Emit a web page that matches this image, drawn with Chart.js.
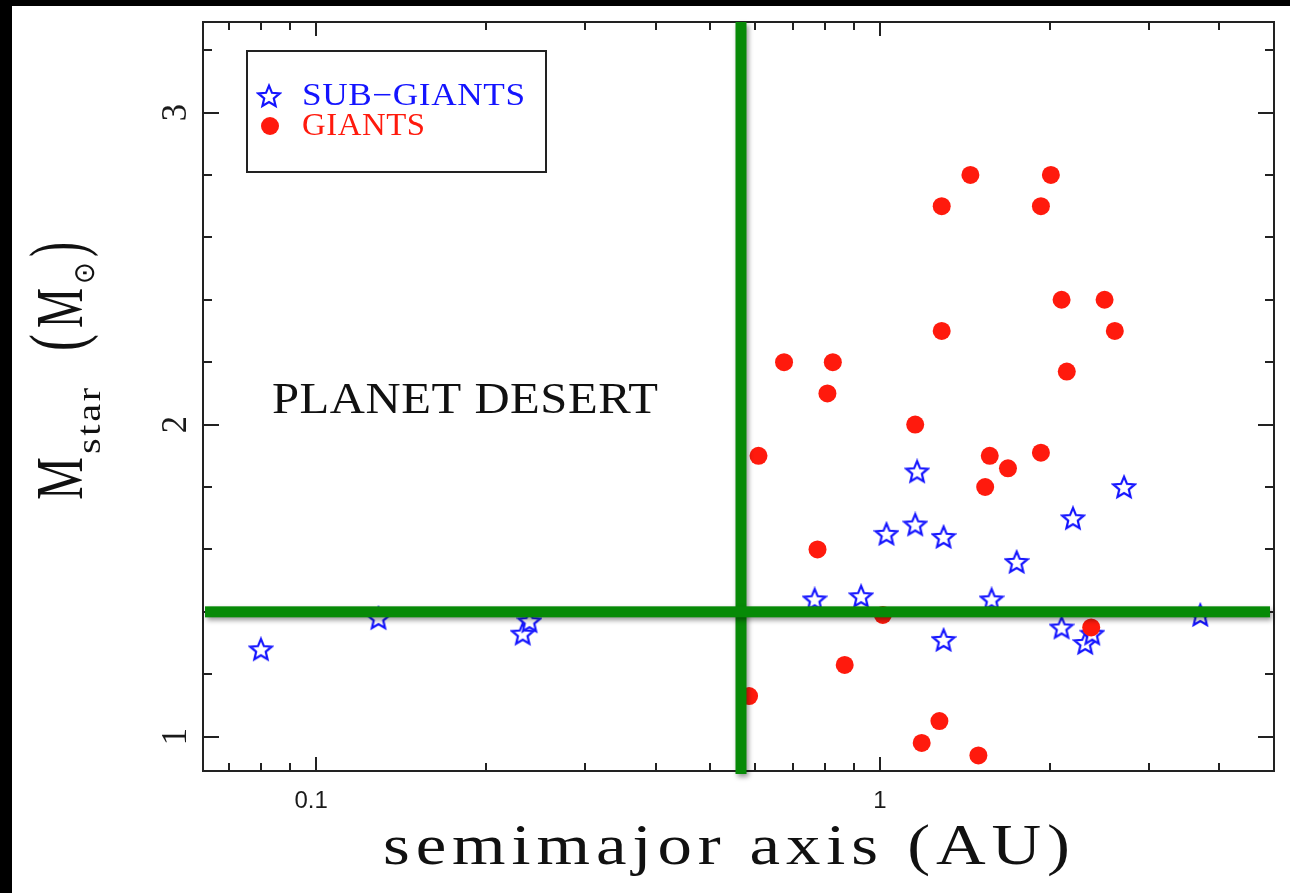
<!DOCTYPE html>
<html>
<head>
<meta charset="utf-8">
<script src="https://cdn.jsdelivr.net/npm/chart.js@4.4.1/dist/chart.umd.min.js"></script>
<style>
  html, body { margin: 0; padding: 0; background: #fff; }
  canvas { display: block; }
</style>
</head>
<body>
<canvas id="desertChart" width="1290" height="893"></canvas>
<script>
// host stars: semimajor axis (AU) and stellar mass (solar masses)
const subGiantAU   = [0.0798, 0.129, 0.2325, 0.239, 0.766, 0.926, 1.027, 1.155, 1.164, 1.297,
                      1.297, 1.578, 1.748, 2.10, 2.20, 2.313, 2.38, 2.71, 3.70];
const subGiantMass = [1.28, 1.38, 1.33, 1.37, 1.44, 1.45, 1.65, 1.68, 1.85, 1.64,
                      1.31, 1.44, 1.56, 1.35, 1.70, 1.30, 1.33, 1.80, 1.39];

const giantAU   = [1.447, 2.01, 1.287, 1.93, 2.10, 2.503, 1.287, 2.61, 0.676, 0.825,
                   2.145, 0.807, 1.155, 0.609, 1.566, 1.93, 1.687, 1.537, 0.775, 1.012,
                   2.37, 0.866, 0.586, 1.275, 1.186, 1.495];
const giantMass = [2.80, 2.80, 2.70, 2.70, 2.40, 2.40, 2.30, 2.30, 2.20, 2.20,
                   2.17, 2.10, 2.00, 1.90, 1.90, 1.91, 1.86, 1.80, 1.60, 1.39,
                   1.35, 1.23, 1.13, 1.05, 0.98, 0.94];

// tick marks and labelled ticks
const auTicks    = [0.07, 0.08, 0.09, 0.1, 0.2, 0.3, 0.4, 0.5, 0.6, 0.7, 0.8, 0.9, 1, 2, 3, 4];
const auLabels   = [0.1, 1];
const massTicks  = [1.0, 1.2, 1.4, 1.6, 1.8, 2.0, 2.2, 2.4, 2.6, 2.8, 3.0, 3.2];
const massLabels = [1, 2, 3];

// edges of the empty region
const desertEdgeAU = 0.567;
const desertEdgeMass = 1.4;

const SERIF = '"Liberation Serif", "Times New Roman", serif';
const SANS = '"Liberation Sans", Arial, sans-serif';
const starBlue = '#1414ff';
const giantRed = '#ff1a0d';
const desertGreen = '#078a07';

function makeStar(size, color) {
  const c = document.createElement('canvas');
  c.width = c.height = size;
  const g = c.getContext('2d');
  const r = size / 2 - 1.8, ri = r * 0.45;
  const cx = size / 2, cy = size / 2 + 0.9;
  g.beginPath();
  for (let i = 0; i < 10; i++) {
    const rad = i % 2 ? ri : r;
    const a = -Math.PI / 2 + i * Math.PI / 5;
    g.lineTo(cx + rad * Math.cos(a), cy + rad * Math.sin(a));
  }
  g.closePath();
  g.fillStyle = '#fff';
  g.fill();
  g.lineWidth = 2.2;
  g.strokeStyle = color;
  g.stroke();
  return c;
}
const starImg = makeStar(26, starBlue);

// draw text from x so that it spans `width`: fixed letter gap, glyphs stretched to fit
function fitText(ctx, text, x, y, width, font, gap) {
  gap = gap || 0;
  ctx.save();
  ctx.font = font;
  ctx.letterSpacing = gap + 'px';
  const w = ctx.measureText(text).width - (text.length > 1 ? gap : 0);
  const sx = width / w;
  ctx.translate(x, y);
  ctx.scale(sx, 1);
  ctx.textAlign = 'left';
  ctx.textBaseline = 'alphabetic';
  ctx.fillText(text, 0, 0);
  ctx.restore();
}

const decor = {
  id: 'decor',
  beforeDraw(chart) {
    const ctx = chart.ctx;
    ctx.save();
    ctx.fillStyle = '#fff';
    ctx.fillRect(0, 0, chart.width, chart.height);
    ctx.fillStyle = '#000';
    ctx.fillRect(0, 0, chart.width, 6);
    ctx.fillRect(0, 0, 12, chart.height);
    ctx.restore();
  },
  afterDatasetsDraw(chart) {
    const ctx = chart.ctx;
    const { left, right, top, bottom } = chart.chartArea;
    const xs = chart.scales.x, ys = chart.scales.y;

    ctx.save();
    // frame
    ctx.strokeStyle = '#222';
    ctx.lineWidth = 2;
    ctx.strokeRect(left, top, right - left, bottom - top);

    // inward ticks on all four sides
    ctx.beginPath();
    auTicks.forEach(v => {
      const px = Math.round(xs.getPixelForValue(v));
      const len = auLabels.includes(v) ? 14 : 8;
      ctx.moveTo(px, bottom); ctx.lineTo(px, bottom - len);
      ctx.moveTo(px, top); ctx.lineTo(px, top + len);
    });
    massTicks.forEach(v => {
      const py = Math.round(ys.getPixelForValue(v));
      const len = massLabels.includes(Math.round(v * 10) / 10) ? 16 : 9;
      ctx.moveTo(left, py); ctx.lineTo(left + len, py);
      ctx.moveTo(right, py); ctx.lineTo(right - len, py);
    });
    ctx.stroke();

    // tick labels
    ctx.fillStyle = '#1a1a1a';
    ctx.font = '24px ' + SANS;
    ctx.textAlign = 'center';
    ctx.textBaseline = 'alphabetic';
    auLabels.forEach(v => {
      ctx.fillText(String(v), xs.getPixelForValue(v) - (v < 1 ? 5 : 0), 808);
    });
    ctx.font = '32px ' + SERIF;
    massLabels.forEach(v => {
      ctx.save();
      ctx.translate(186, ys.getPixelForValue(v));
      ctx.rotate(-Math.PI / 2);
      ctx.scale(1.08, 1.12);
      ctx.fillText(String(v), 0, 0);
      ctx.restore();
    });

    // boundaries of the desert, over the points
    ctx.save();
    ctx.shadowColor = 'rgba(0,0,0,0.4)';
    ctx.shadowBlur = 5;
    ctx.shadowOffsetX = 2;
    ctx.shadowOffsetY = 3;
    ctx.fillStyle = desertGreen;
    const vx = xs.getPixelForValue(desertEdgeAU);
    ctx.fillRect(vx - 5.5, top, 11, bottom - top + 3);
    const hy = ys.getPixelForValue(desertEdgeMass);
    ctx.fillRect(left + 2, hy - 5.5, right - left - 6, 11);
    ctx.restore();

    // legend box
    ctx.strokeStyle = '#222';
    ctx.lineWidth = 2;
    ctx.strokeRect(247, 51, 299, 121);
    const dsStar = chart.data.datasets[1], dsDot = chart.data.datasets[0];
    Chart.helpers.drawPoint(ctx, { pointStyle: dsStar.pointStyle, radius: 11, borderWidth: 0 }, 269, 96);
    ctx.fillStyle = giantRed;
    Chart.helpers.drawPoint(ctx, { pointStyle: 'circle', radius: 9, borderWidth: 0 }, 270, 126);
    ctx.fillStyle = starBlue;
    fitText(ctx, dsStar.label, 302, 105, 223, '31px ' + SERIF, 0.5);
    ctx.fillStyle = giantRed;
    fitText(ctx, dsDot.label, 302, 135, 123, '31px ' + SERIF, 0.5);

    // region label
    ctx.fillStyle = '#111';
    fitText(ctx, 'PLANET DESERT', 272, 413, 386, '45px ' + SERIF, 0.5);

    // x-axis title
    fitText(ctx, 'semimajor axis (AU)', 383, 864, 687, '58px ' + SERIF, 5);

    // y-axis title: M_star (M_sun), reading upward
    ctx.save();
    ctx.translate(82, 500);
    ctx.rotate(-Math.PI / 2);
    ctx.scale(1, 1.12);
    fitText(ctx, 'M', 0, 0, 43, '60px ' + SERIF);
    fitText(ctx, 'star', 46, 16, 66, '30px ' + SERIF, 2);
    fitText(ctx, '(', 149, 0, 17, '68px ' + SERIF);
    fitText(ctx, 'M', 172, 0, 40, '60px ' + SERIF);
    ctx.font = '26px "DejaVu Sans", sans-serif';
    ctx.textAlign = 'center';
    ctx.textBaseline = 'middle';
    ctx.fillText('\u2299', 227, 4);
    fitText(ctx, ')', 243, 0, 15, '68px ' + SERIF);
    ctx.restore();

    ctx.restore();
  }
};

const ctx = document.getElementById('desertChart').getContext('2d');

const data = {
  datasets: [
    {
      label: 'GIANTS',
      data: giantAU.map((a, i) => ({ x: a, y: giantMass[i] })),
      pointStyle: 'circle',
      pointRadius: 9,
      backgroundColor: giantRed,
      borderColor: giantRed,
      borderWidth: 0,
      order: 0
    },
    {
      label: 'SUB\u2212GIANTS',
      data: subGiantAU.map((a, i) => ({ x: a, y: subGiantMass[i] })),
      pointStyle: starImg,
      pointRadius: 11,
      borderColor: starBlue,
      backgroundColor: '#fff',
      order: 1
    }
  ]
};

const config = {
  type: 'scatter',
  data: data,
  options: {
    responsive: false,
    animation: false,
    events: [],
    layout: { padding: { left: 0, top: 22, right: 16, bottom: 0 } },
    scales: {
      x: {
        type: 'logarithmic',
        min: 0.063,
        max: 5.0,
        bounds: 'data',
        ticks: { display: false },
        grid: { display: false },
        border: { display: false },
        afterFit: s => { s.height = 122; }
      },
      y: {
        type: 'linear',
        min: 0.89,
        max: 3.29,
        ticks: { display: false },
        grid: { display: false },
        border: { display: false },
        afterFit: s => { s.width = 203; }
      }
    },
    plugins: {
      legend: { display: false },
      tooltip: { enabled: false }
    }
  },
  plugins: [decor]
};

new Chart(ctx, config);
</script>
</body>
</html>
